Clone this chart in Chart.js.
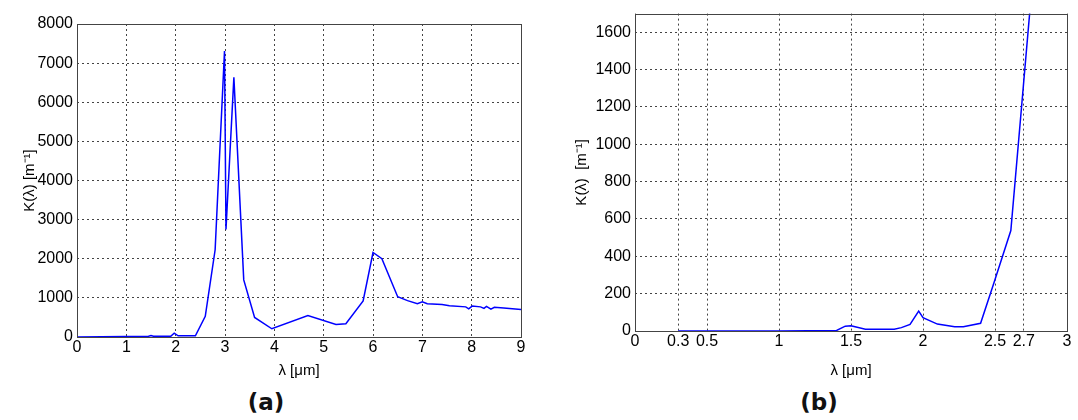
<!DOCTYPE html>
<html>
<head>
<meta charset="utf-8">
<script src="https://cdn.jsdelivr.net/npm/chart.js@4.4.0/dist/chart.umd.min.js"></script>
<style>
  body { margin: 0; background: #fff; width: 1078px; height: 420px; position: relative; overflow: hidden; }
  .panel { position: absolute; top: 0; height: 380px; }
  .caption { position: absolute; top: 389px; font: bold 23px "DejaVu Sans", sans-serif; color: #111; transform: translateX(-50%); }
</style>
</head>
<body>
<div class="panel" style="left:0;width:540px"><canvas id="chartA"></canvas></div>
<div class="panel" style="left:540px;width:538px"><canvas id="chartB"></canvas></div>
<div class="caption" style="left:266px">(a)</div>
<div class="caption" style="left:819px">(b)</div>
<script>
// panel (a): full range
const lambdaA = [0, 1, 1.45, 1.5, 1.55, 1.9, 1.97, 2.05, 2.4, 2.6, 2.8, 2.99, 3.02, 3.18, 3.38, 3.6, 3.95, 4.68, 5.25, 5.45, 5.8, 6.0, 6.18, 6.5, 6.7, 6.9, 7.0, 7.1, 7.4, 7.55, 7.88, 7.94, 8.01, 8.18, 8.25, 8.3, 8.39, 8.46, 8.65, 9.0];
const kA = [0, 10, 20, 40, 20, 20, 100, 30, 30, 530, 2230, 7310, 2750, 6640, 1460, 500, 210, 550, 320, 340, 920, 2160, 2000, 1030, 930, 850, 900, 850, 830, 800, 770, 720, 790, 770, 730, 780, 710, 760, 740, 700];
const xTicksA = [0, 1, 2, 3, 4, 5, 6, 7, 8, 9];
const yTicksA = [0, 1000, 2000, 3000, 4000, 5000, 6000, 7000, 8000];

// panel (b): zoom on short wavelengths
const lambdaB = [0.3, 1.0, 1.4, 1.46, 1.5, 1.6, 1.8, 1.85, 1.91, 1.97, 2.0, 2.1, 2.22, 2.28, 2.4, 2.49, 2.61, 2.8];
const kB = [0, 0, 3, 26, 28, 9, 9, 18, 35, 106, 71, 37, 23, 23, 41, 252, 538, 2230];
const xTicksB = [0, 0.3, 0.5, 1, 1.5, 2, 2.5, 2.7, 3];
const yTicksB = [0, 200, 400, 600, 800, 1000, 1200, 1400, 1600];

const tickFont = { family: "Liberation Sans, Arial", size: 16 };
const titleFont = { family: "Liberation Sans, Arial", size: 15 };

const boxPlugin = {
  id: "box",
  afterDatasetsDraw(chart) {
    const a = chart.chartArea;
    const ctx = chart.ctx;
    ctx.save();
    ctx.strokeStyle = "#444";
    ctx.lineWidth = 1;
    ctx.strokeRect(Math.round(a.left) + 0.5, Math.round(a.top) + 0.5,
      Math.round(a.right - a.left), Math.round(a.bottom - a.top));
    ctx.restore();
  },
};

function makeChart(id, xs, ys, xTicks, yTicks, yMax, yAxisWidth, xAxisHeight, pad, yTitle, yTitleOffset) {
  const points = xs.map((x, i) => ({ x: x, y: ys[i] }));
  return new Chart(document.getElementById(id), {
    type: "line",
    data: {
      datasets: [{
        data: points,
        borderColor: "#0000ff",
        borderWidth: 1.5,
        pointRadius: 0,
        tension: 0,
      }],
    },
    options: {
      responsive: true,
      maintainAspectRatio: false,
      animation: false,
      layout: { padding: pad },
      plugins: { legend: { display: false }, tooltip: { enabled: false } },
      scales: {
        x: {
          type: "linear",
          min: xTicks[0],
          max: xTicks[xTicks.length - 1],
          afterBuildTicks: (s) => { s.ticks = xTicks.map((v) => ({ value: v })); },
          afterFit: (s) => { s.height = xAxisHeight; },
          ticks: { color: "#000", font: tickFont, padding: 1, maxRotation: 0, autoSkip: false, callback: (v) => String(v) },
          grid: { color: "#444", drawTicks: false, lineWidth: 1 },
          border: { display: false, dash: [2, 3] },
          title: { display: true, text: "λ [μm]", color: "#000", font: titleFont, padding: 0 },
        },
        y: {
          min: 0,
          max: yMax,
          afterBuildTicks: (s) => { s.ticks = yTicks.map((v) => ({ value: v })); },
          afterFit: (s) => { s.width = yAxisWidth; },
          ticks: { color: "#000", font: tickFont, padding: 4, callback: (v) => String(v) },
          grid: { color: "#444", drawTicks: false, lineWidth: 1 },
          border: { display: false, dash: [2, 3] },
          title: { display: true, text: yTitle, color: "#000", font: titleFont, padding: { top: yTitleOffset, bottom: 0 } },
        },
      },
    },
    plugins: [boxPlugin],
  });
}

makeChart("chartA", lambdaA, kA, xTicksA, yTicksA, 8000, 77, 43, { top: 24, right: 19, left: 0, bottom: 0 }, "K(λ) [m⁻¹]", 21);
makeChart("chartB", lambdaB, kB, xTicksB, yTicksB, 1700, 95, 49, { top: 10, right: 11, left: 0, bottom: 0 }, "K(λ)  [m⁻¹]", 33);
</script>
</body>
</html>
